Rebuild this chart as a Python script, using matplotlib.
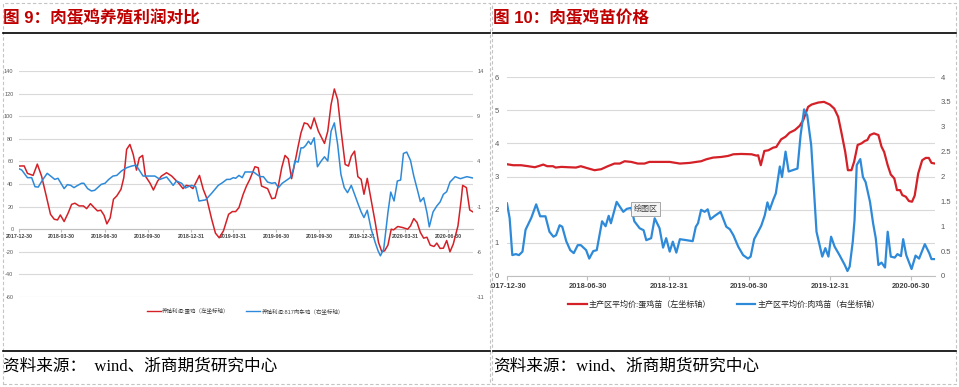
import matplotlib
matplotlib.use('Agg')
import matplotlib.pyplot as plt
import pandas as pd
from matplotlib.patches import Rectangle
from matplotlib.lines import Line2D
from matplotlib.transforms import Bbox, TransformedBbox

plt.rcParams['font.family'] = ['Liberation Sans', 'Noto Sans CJK SC']

# ---------------- data: figure 9 (profits) ----------------
egg_profit_dates = [
    '2017-12-30', '2018-01-10', '2018-01-17', '2018-01-29', '2018-02-07', '2018-02-16', '2018-02-26',
    '2018-03-07', '2018-03-15', '2018-03-22', '2018-03-28', '2018-04-05', '2018-04-14', '2018-04-21',
    '2018-04-28', '2018-05-07', '2018-05-16', '2018-05-23', '2018-05-31', '2018-06-08', '2018-06-15',
    '2018-06-22', '2018-06-29', '2018-07-05', '2018-07-12', '2018-07-19', '2018-07-26', '2018-08-04',
    '2018-08-10', '2018-08-16', '2018-08-23', '2018-08-30', '2018-09-06', '2018-09-12', '2018-09-19',
    '2018-09-25', '2018-10-05', '2018-10-12', '2018-10-21', '2018-10-29', '2018-11-09', '2018-11-20',
    '2018-11-27', '2018-12-05', '2018-12-14', '2018-12-21', '2018-12-28', '2019-01-04', '2019-01-18',
    '2019-01-26', '2019-02-02', '2019-02-13', '2019-02-21', '2019-03-01', '2019-03-10', '2019-03-21',
    '2019-03-29', '2019-04-05', '2019-04-12', '2019-04-21', '2019-04-28', '2019-05-05',
    '2019-05-16', '2019-05-23', '2019-05-30', '2019-06-12', '2019-06-21', '2019-06-28', '2019-07-05',
    '2019-07-12', '2019-07-19', '2019-07-26', '2019-08-02', '2019-08-09', '2019-08-16', '2019-08-22',
    '2019-08-29', '2019-09-05', '2019-09-12', '2019-09-19', '2019-09-28', '2019-10-11', '2019-10-18',
    '2019-10-25', '2019-11-01', '2019-11-08', '2019-11-15', '2019-11-24', '2019-12-01', '2019-12-07',
    '2019-12-14', '2019-12-21', '2019-12-28',
    '2020-01-03', '2020-01-10', '2020-01-18', '2020-01-27', '2020-02-03', '2020-02-10', '2020-02-16',
    '2020-02-23', '2020-03-01', '2020-03-06', '2020-03-15', '2020-03-25', '2020-04-05', '2020-04-11',
    '2020-04-18', '2020-04-25', '2020-05-02', '2020-05-09', '2020-05-16', '2020-05-23', '2020-05-31',
    '2020-06-06', '2020-06-13', '2020-06-20', '2020-06-27', '2020-07-04', '2020-07-11', '2020-07-21',
    '2020-07-28', '2020-07-31', '2020-08-08', '2020-08-15', '2020-08-22']
egg_profit = [
    55.9, 56, 49.4, 47.6, 57.6, 47, 29.4, 13.2, 8.8, 8.2, 12.6, 6.8, 14.7, 22, 23, 20.6, 20.6, 18.2,
    22.6, 19.1, 16.2, 16.8, 12.3, 4.7, 10, 26.5, 29.4, 35.3, 45.6, 70.6, 75, 66.2, 52.3, 63.2, 65.3,
    47, 40.6, 34.7, 42.6, 47, 50, 47, 44, 40.6, 35.9, 38.8, 38.2, 35.9, 47.6, 35.3, 27.9, 8.8, -3.5,
    -7.6, -1.5, 13.2, 15.6, 15.6, 19.1, 30.9, 38.2, 44,
    55.3, 54.4, 38.2, 35.9, 27, 27.6, 38.8, 54.4, 65.3, 62.3, 44.7, 58.8, 73.5, 85.3, 94.1, 93.2,
    88.8, 98.5, 86.7, 75.9, 86.7, 110.3, 124.1, 114.7, 88.2, 57.3, 55.9, 64.7, 69.1, 46.5, 44.1,
    30.9, 45, 26.5, 5.9, -11.8, -20, -19.1, -14.1, 0, -0.6, 2.4, 1.5, 0, 2.9, 9.4, 5.9, -2.9, -7.9,
    -7.1, -14.1, -15.3, -12.3, -17, -16.8, -10, -20, -13.2, 2.9, 26.5, 38.8, 36.8, 17, 15.3]

broiler_profit_dates = [
    '2017-12-30', '2018-01-05', '2018-01-17', '2018-01-26', '2018-02-02', '2018-02-09', '2018-02-18',
    '2018-02-28', '2018-03-09', '2018-03-16', '2018-03-23', '2018-04-05', '2018-04-12', '2018-04-19',
    '2018-04-26', '2018-05-04', '2018-05-12', '2018-05-17', '2018-05-25', '2018-06-02', '2018-06-09',
    '2018-06-23', '2018-07-01', '2018-07-09', '2018-07-18', '2018-07-26', '2018-08-05', '2018-08-16',
    '2018-08-27', '2018-09-05', '2018-09-11', '2018-09-20', '2018-09-30', '2018-10-15', '2018-10-26',
    '2018-11-09', '2018-11-16', '2018-11-23', '2018-11-30', '2018-12-11', '2018-12-19', '2018-12-25',
    '2019-01-01', '2019-01-10', '2019-01-17', '2019-01-31', '2019-02-13', '2019-02-27', '2019-03-08',
    '2019-03-17', '2019-03-24', '2019-03-31', '2019-04-05', '2019-04-12', '2019-04-19', '2019-04-25',
    '2019-05-05',
    '2019-05-13', '2019-05-20', '2019-05-27', '2019-06-03', '2019-06-12', '2019-06-21', '2019-06-28',
    '2019-07-05', '2019-07-13', '2019-07-23', '2019-07-30', '2019-08-06', '2019-08-09', '2019-08-16',
    '2019-08-22', '2019-08-27', '2019-09-01', '2019-09-07', '2019-09-12', '2019-09-19', '2019-09-26',
    '2019-10-04', '2019-10-11', '2019-10-18', '2019-10-25', '2019-11-01', '2019-11-08', '2019-11-15',
    '2019-11-22', '2019-11-29', '2019-12-07', '2019-12-14', '2019-12-21', '2019-12-28',
    '2020-01-03', '2020-01-10', '2020-01-18', '2020-01-27', '2020-02-02', '2020-02-07', '2020-02-14',
    '2020-02-23', '2020-02-29', '2020-03-07', '2020-03-14', '2020-03-21', '2020-03-27', '2020-04-03',
    '2020-04-11', '2020-04-18', '2020-04-25', '2020-05-02', '2020-05-09', '2020-05-16', '2020-05-21',
    '2020-05-29', '2020-06-06', '2020-06-13', '2020-06-20', '2020-06-27', '2020-07-04', '2020-07-15',
    '2020-07-26', '2020-08-09', '2020-08-22']
broiler_profit = [
    3.19, 3.04, 2.2, 2.2, 1.2, 1.16, 1.94, 2.68, 2.31, 2.01, 2.13, 0.99, 1.43, 1.35, 1.1, 1.35, 1.58,
    1.58, 0.99, 0.73, 0.8, 1.46, 1.58, 2.01, 2.38, 2.45, 2.94, 3.3, 3.49, 3.59, 3.11, 2.38, 2.38, 2.38,
    2.01, 2.28, 1.83, 1.35, 1.83, 1.58, 1.06, 1.2, 1.35, 1.2, -0.38, -0.26, 0.48, 1.35, 1.65, 2.01,
    2.01, 2.2, 2.13, 2.45, 2.2, 2.83, 2.83,
    2.83, 2.56, 2.31, 2.31, 1.71, 1.58, 1.65, 1.1, 1.58, 1.94, 2.2, 3.19, 4.04, 3.93, 5.5, 5.5, 5.76,
    6.24, 5.88, 6.61, 3.41, 4.04, 4.51, 4.04, 7.34, 8.26, 5.88, 2.56, 1.1, 0.54, 1.35, 0.36, -0.64,
    -1.59,
    -2.21, -1.4, -3.43, -4.98, -5.89, -6.44, -5.7, -1.66, 0.61, -0.38, 1.83, 1.94, 4.88, 5.03, 4.11,
    2.38, 0.99, -0.45, -0.01, -1.66, -3.24, -1.59, -0.93, -0.49, 0.36, 0.65, 1.71, 2.31, 2.09, 2.31,
    2.16]

profit_tick_dates = ['2017-12-30', '2018-03-30', '2018-06-30', '2018-09-30', '2018-12-31', '2019-03-31',
                     '2019-06-30', '2019-09-30', '2019-12-31', '2020-03-31', '2020-06-30']
profit_left_ticks = [-60, -40, -20, 0, 20, 40, 60, 80, 100, 120, 140]
profit_right_ticks = [-11, -6, -1, 4, 9, 14]

# ---------------- data: figure 10 (chick prices) ----------------
egg_chick_dates = [
    '2017-12-30', '2018-01-13', '2018-01-31', '2018-02-16', '2018-03-03', '2018-03-13', '2018-03-22',
    '2018-03-31', '2018-04-13', '2018-04-19', '2018-05-02', '2018-05-17', '2018-06-04', '2018-06-15',
    '2018-06-30', '2018-07-16', '2018-07-31', '2018-08-15', '2018-08-30', '2018-09-11', '2018-09-22',
    '2018-10-07', '2018-10-22', '2018-11-06', '2018-11-17', '2018-12-10', '2019-01-02', '2019-01-25',
    '2019-02-16', '2019-03-03', '2019-03-14', '2019-03-26', '2019-04-10',
    '2019-04-29', '2019-05-14', '2019-05-26', '2019-06-13', '2019-07-06', '2019-07-17', '2019-07-21',
    '2019-07-27', '2019-08-04', '2019-08-13', '2019-08-24', '2019-08-31', '2019-09-11', '2019-09-21',
    '2019-09-30', '2019-10-12', '2019-10-23', '2019-10-31', '2019-11-11', '2019-11-19', '2019-12-04',
    '2019-12-17', '2019-12-30',
    '2020-01-09', '2020-01-18', '2020-01-25', '2020-02-03', '2020-02-09', '2020-02-17', '2020-02-23',
    '2020-03-02', '2020-03-11', '2020-03-18', '2020-03-24', '2020-03-30', '2020-04-08', '2020-04-18',
    '2020-04-25', '2020-05-01', '2020-05-09', '2020-05-16', '2020-05-24', '2020-05-30', '2020-06-06',
    '2020-06-11', '2020-06-19', '2020-06-26', '2020-07-03', '2020-07-09', '2020-07-17', '2020-07-26',
    '2020-08-03', '2020-08-10', '2020-08-16', '2020-08-24']
egg_chick_price = [
    3.37, 3.34, 3.34, 3.31, 3.28, 3.32, 3.36, 3.31, 3.31, 3.27, 3.29, 3.28, 3.27, 3.31, 3.25, 3.19,
    3.22, 3.31, 3.39, 3.39, 3.46, 3.44, 3.39, 3.39, 3.44, 3.44, 3.44, 3.39, 3.41, 3.44, 3.46, 3.52,
    3.57,
    3.59, 3.62, 3.67, 3.68, 3.67, 3.63, 3.64, 3.34, 3.77, 3.79, 3.87, 3.89, 4.12, 4.2, 4.32, 4.4,
    4.53, 4.70, 5.1, 5.17, 5.23, 5.25, 5.17, 5.05, 4.8, 4.35, 3.74, 3.19, 3.19, 3.44, 3.95, 4.0, 4.07,
    4.1, 4.25, 4.3, 4.25, 3.9, 3.74, 3.34, 3.06, 2.94, 2.59, 2.59, 2.44, 2.39, 2.26, 2.24, 2.42, 3.09,
    3.49, 3.56, 3.56, 3.41, 3.39]

broiler_chick_dates = [
    '2017-12-30', '2018-01-05', '2018-01-11', '2018-01-19', '2018-01-26', '2018-02-03', '2018-02-10',
    '2018-02-23', '2018-03-06', '2018-03-15', '2018-03-27', '2018-04-05', '2018-04-14', '2018-04-20',
    '2018-04-28', '2018-05-04', '2018-05-13', '2018-05-22', '2018-05-30', '2018-06-08', '2018-06-15',
    '2018-06-27', '2018-07-04', '2018-07-13', '2018-07-21', '2018-08-02', '2018-08-10', '2018-08-17',
    '2018-08-22', '2018-09-04', '2018-09-19', '2018-09-27', '2018-10-07', '2018-10-14', '2018-10-26',
    '2018-11-04', '2018-11-10', '2018-11-21', '2018-11-29', '2018-12-10', '2018-12-18', '2018-12-25',
    '2019-01-02', '2019-01-09', '2019-01-17', '2019-01-25', '2019-02-09', '2019-02-23', '2019-03-02',
    '2019-03-07', '2019-03-14', '2019-03-22', '2019-03-29', '2019-04-04',
    '2019-04-14', '2019-04-27', '2019-05-10', '2019-05-18', '2019-05-26', '2019-06-06', '2019-06-17',
    '2019-06-28', '2019-07-04', '2019-07-12', '2019-07-21', '2019-07-28', '2019-08-05', '2019-08-11',
    '2019-08-16', '2019-08-24', '2019-08-30', '2019-09-08', '2019-09-13', '2019-09-21', '2019-09-28',
    '2019-10-18', '2019-10-25', '2019-11-02', '2019-11-09', '2019-11-18', '2019-11-24', '2019-11-30',
    '2019-12-07', '2019-12-13', '2019-12-20', '2019-12-27',
    '2020-01-02', '2020-01-10', '2020-01-21', '2020-02-02', '2020-02-08', '2020-02-13', '2020-02-20',
    '2020-02-24', '2020-02-29', '2020-03-08', '2020-03-14', '2020-03-20', '2020-03-30', '2020-04-06',
    '2020-04-12', '2020-04-18', '2020-04-25', '2020-05-03', '2020-05-09', '2020-05-16', '2020-05-25',
    '2020-05-31', '2020-06-08', '2020-06-13', '2020-06-20', '2020-07-02', '2020-07-11', '2020-07-19',
    '2020-08-01', '2020-08-11', '2020-08-16', '2020-08-24']
broiler_chick_price = [
    1.46, 1.16, 0.42, 0.44, 0.42, 0.49, 0.93, 1.17, 1.44, 1.2, 1.2, 0.89, 0.79, 0.82, 1.02, 0.99, 0.7,
    0.52, 0.46, 0.62, 0.62, 0.52, 0.35, 0.5, 0.52, 1.1, 1.0, 1.21, 1.06, 1.49, 1.29, 1.35, 1.37, 1.1,
    0.96, 0.92, 0.72, 0.76, 1.16, 0.96, 0.57, 0.76, 0.49, 0.69, 0.47, 0.74, 0.72, 0.7, 0.99, 1.06,
    1.33, 1.29, 1.34, 1.14,
    1.21, 1.29, 0.99, 0.94, 0.82, 0.59, 0.42, 0.35, 0.39, 0.74, 0.89, 1.01, 1.22, 1.48, 1.33, 1.53,
    1.66, 2.2, 1.99, 2.5, 2.1, 2.16, 2.83, 3.35, 3.23, 2.63, 1.76, 0.89, 0.62, 0.39, 0.56, 0.39,
    0.79, 0.59, 0.42, 0.22, 0.1, 0.19, 0.69, 1.12, 2.23, 2.35, 1.99, 1.89, 1.49, 1.06, 0.76, 0.22,
    0.27, 0.17, 0.89, 0.39, 0.37, 0.44, 0.4, 0.74, 0.42, 0.14, 0.41, 0.35, 0.64, 0.46, 0.34, 0.34]

chick_tick_dates = ['2017-12-30', '2018-06-30', '2018-12-31', '2019-06-30', '2019-12-31', '2020-06-30']
chick_left_ticks = [0, 1, 2, 3, 4, 5, 6]
chick_right_ticks = [0, 0.5, 1, 1.5, 2, 2.5, 3, 3.5, 4]

title_9 = '图 9：肉蛋鸡养殖利润对比'
title_10 = '图 10：肉蛋鸡苗价格'
legend_9 = ['养殖利润:蛋鸡（左坐标轴）', '养殖利润:817肉杂鸡（右坐标轴）']
legend_10 = ['主产区平均价:蛋鸡苗（左坐标轴）', '主产区平均价:肉鸡苗（右坐标轴）']
source_left = '资料来源：  wind、浙商期货研究中心'
source_right = '资料来源：wind、浙商期货研究中心'

# ---------------- styling ----------------
RED = '#D42027'
BLUE = '#2E8AD8'
GRID = '#D9D9D9'
TXT = '#595959'
TITLE = '#C00000'

W, H = 959, 387
fig = plt.figure(figsize=(W / 100, H / 100), dpi=100)


def fx(x):
    return x / W


def fy(y):
    return 1 - y / H


def fmt(v):
    return ('%g' % v)


def style_axes(ax):
    for s in ['top', 'left', 'right', 'bottom']:
        ax.spines[s].set_visible(False)
    ax.patch.set_alpha(0)


# ---------------- figure 9 ----------------
ax1 = fig.add_axes([fx(19), fy(297), (473 - 19) / W, (297 - 71) / H])
ax1.plot(pd.to_datetime(egg_profit_dates), egg_profit, color=RED, lw=1.1, zorder=3)
ax1.set_ylim(-60, 140)
ax1.set_xlim(pd.Timestamp('2017-12-30'), pd.Timestamp('2020-08-22'))
ax1.set_yticks(profit_left_ticks, [fmt(v) for v in profit_left_ticks])
ax1.grid(axis='y', color=GRID, lw=0.8)
ax1.set_axisbelow(True)
style_axes(ax1)
ax1.spines['bottom'].set_visible(True)
ax1.spines['bottom'].set_position(('data', 0))
ax1.spines['bottom'].set_color('#BFBFBF')
ax1.spines['bottom'].set_linewidth(0.8)
ax1.set_xticks(pd.to_datetime(profit_tick_dates), profit_tick_dates,
               fontsize=3.8, fontweight='bold', color='#404040')
ax1.tick_params(axis='x', length=2, color='#BFBFBF', pad=1.5)
ax1.tick_params(axis='y', length=0, labelsize=4, labelcolor=TXT, pad=4)

ax1b = ax1.twinx()
ax1b.plot(pd.to_datetime(broiler_profit_dates), broiler_profit, color=BLUE, lw=1.1, zorder=3)
ax1b.set_ylim(-11, 14)
ax1b.set_yticks(profit_right_ticks, [fmt(v) for v in profit_right_ticks])
style_axes(ax1b)
ax1b.tick_params(axis='y', length=0, labelsize=4, labelcolor=TXT, pad=3)

h9 = [Line2D([], [], color=RED, lw=1.0), Line2D([], [], color=BLUE, lw=1.0)]
fig.legend(h9, legend_9, loc='center', bbox_to_anchor=(fx(245.5), fy(311)), ncol=2, frameon=False,
           fontsize=4, handlelength=2.5, handletextpad=0.3, columnspacing=3.0, labelcolor='#404040')

# ---------------- figure 10 ----------------
ax2 = fig.add_axes([fx(507), fy(276), (935 - 507) / W, (276 - 77) / H])
ax2.plot(pd.to_datetime(egg_chick_dates), egg_chick_price, color=RED, lw=1.6, zorder=3)
ax2.set_ylim(0, 6)
ax2.set_xlim(pd.Timestamp('2017-12-30'), pd.Timestamp('2020-08-24'))
ax2.set_yticks(chick_left_ticks, [fmt(v) for v in chick_left_ticks])
ax2.grid(axis='y', color=GRID, lw=0.8)
ax2.set_axisbelow(True)
style_axes(ax2)
ax2.spines['bottom'].set_visible(True)
ax2.spines['bottom'].set_color('#BFBFBF')
ax2.spines['bottom'].set_linewidth(0.8)
ax2.set_xticks(pd.to_datetime(chick_tick_dates), chick_tick_dates,
               fontsize=5.4, fontweight='bold', color='#404040')
ax2.tick_params(axis='x', length=3, color='#BFBFBF', pad=2)
ax2.tick_params(axis='y', length=0, labelsize=5.5, labelcolor=TXT, pad=6)

ax2b = ax2.twinx()
ax2b.plot(pd.to_datetime(broiler_chick_dates), broiler_chick_price, color=BLUE, lw=1.6, zorder=3)
ax2b.set_ylim(0, 4)
ax2b.set_yticks(chick_right_ticks, [fmt(v) for v in chick_right_ticks])
style_axes(ax2b)
ax2b.tick_params(axis='y', length=0, labelsize=5.5, labelcolor=TXT, pad=4)

clip = TransformedBbox(Bbox([[fx(491), 0], [1, 1]]), fig.transFigure)
for lab in ax2.get_xticklabels():
    lab.set_clip_on(True)
    lab.set_clip_box(clip)

h10 = [Line2D([], [], color=RED, lw=1.6), Line2D([], [], color=BLUE, lw=1.6)]
fig.legend(h10, legend_10, loc='center', bbox_to_anchor=(fx(724), fy(305)), ncol=2, frameon=False,
           fontsize=5.8, handlelength=2.3, handletextpad=0.25, columnspacing=3.2, labelcolor='#262626')

# excel tooltip left in the screenshot
fig.text(fx(645.5), fy(209), '绘图区', fontsize=5.8, ha='center', va='center', color='#404040',
         bbox=dict(boxstyle='square,pad=0.35', fc='#F4F4F4', ec='#9A9A9A', lw=0.6), zorder=5)

# ---------------- frames, titles, sources ----------------
fig.add_artist(Rectangle((fx(2.5), fy(384)), (489.5 - 2.5) / W, (384 - 2.5) / H,
                         transform=fig.transFigure, fill=False, ec='#C4C4C4', lw=0.8, ls=(0, (3, 2))))
fig.add_artist(Rectangle((fx(491.5), fy(384)), (956 - 491.5) / W, (384 - 2.5) / H,
                         transform=fig.transFigure, fill=False, ec='#C4C4C4', lw=0.8, ls=(0, (3, 2))))

for x0, x1 in [(3, 490), (493, 956)]:
    fig.add_artist(Line2D([fx(x0), fx(x1)], [fy(33), fy(33)], color='black', lw=1.2,
                          transform=fig.transFigure))
    fig.add_artist(Line2D([fx(x0), fx(x1)], [fy(351), fy(351)], color='black', lw=1.2,
                          transform=fig.transFigure))

fig.text(fx(3), fy(17.5), title_9, fontsize=12, fontweight='bold', color=TITLE, ha='left', va='center')
fig.text(fx(493), fy(17.5), title_10, fontsize=12, fontweight='bold', color=TITLE, ha='left', va='center')

src_family = ['Liberation Serif', 'Noto Sans CJK SC']
fig.text(fx(3), fy(367), source_left, fontsize=12, family=src_family, fontweight='light',
         ha='left', va='center', color='black')
fig.text(fx(493), fy(367), source_right, fontsize=12, family=src_family, fontweight='light',
         ha='left', va='center', color='black')

fig.savefig('out.png', dpi=100)
